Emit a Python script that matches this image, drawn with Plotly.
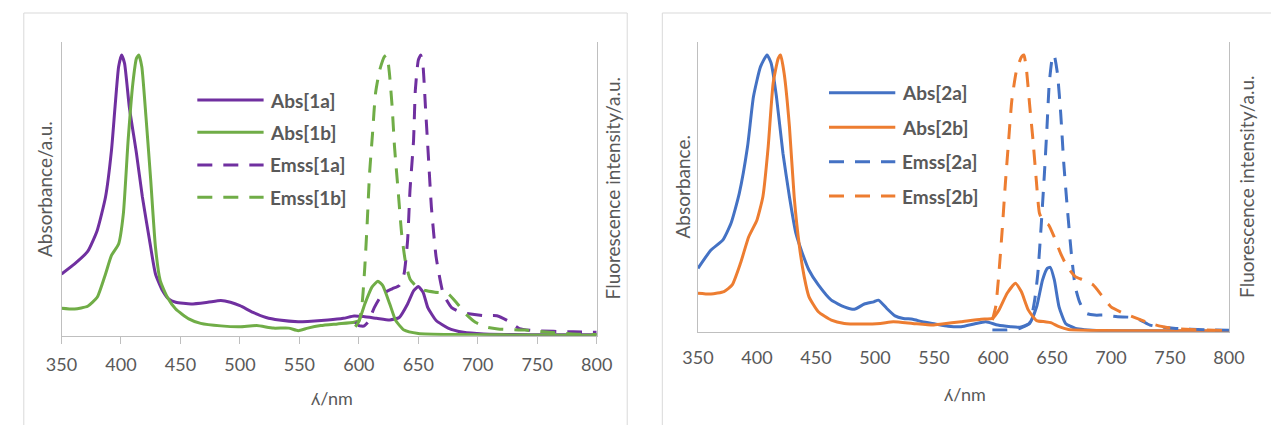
import plotly.graph_objects as go

W, H = 1271, 425

# ---------------- data (left panel) ----------------
abs_1a_x = [350, 361, 372, 380, 387, 392, 395, 398, 400.5, 403, 407, 413, 418, 424, 429, 435, 440, 446, 459, 473,
            484, 492, 500, 511, 522, 533, 549, 557, 574, 587, 596, 604, 615, 626, 634, 641, 646, 650, 654, 658,
            665, 675, 688, 705, 730, 760, 800]
abs_1a_y = [0.22, 0.256, 0.30, 0.375, 0.494, 0.66, 0.815, 0.958, 1.0, 0.97, 0.815, 0.65, 0.494, 0.34, 0.22, 0.16,
            0.131, 0.119, 0.113, 0.119, 0.125, 0.119, 0.107, 0.083, 0.065, 0.056, 0.05, 0.051, 0.056, 0.062, 0.07,
            0.068, 0.062, 0.056, 0.065, 0.113, 0.16, 0.175, 0.155, 0.10, 0.054, 0.027, 0.012, 0.006, 0.004, 0.003,
            0.003]

abs_1b_x = [350, 361, 372, 380, 387, 392, 398, 402, 406, 410, 413, 415, 417.5, 421, 425, 429, 433, 439, 446, 457,
            467, 484, 500, 514, 528, 541, 549, 557, 568, 582, 596, 600, 605, 611, 616, 620, 626, 631, 638, 650,
            678, 720, 800]
abs_1b_y = [0.098, 0.095, 0.105, 0.137, 0.22, 0.286, 0.327, 0.435, 0.696, 0.9, 0.988, 1.0, 0.958, 0.78, 0.554,
            0.315, 0.196, 0.137, 0.095, 0.06, 0.044, 0.035, 0.032, 0.036, 0.027, 0.027, 0.018, 0.027, 0.036, 0.042,
            0.048, 0.054, 0.113, 0.173, 0.194, 0.179, 0.113, 0.054, 0.02, 0.008, 0.004, 0.003, 0.002]

emss_1a_x = [597, 600, 604, 608, 613, 620, 628, 634, 638, 641, 643, 646, 647.5, 650, 652, 654, 656, 658.5, 661,
             665, 671, 678, 686, 694, 705, 716, 725, 735, 747, 780, 800]
emss_1a_y = [0.048, 0.036, 0.034, 0.05, 0.10, 0.149, 0.167, 0.179, 0.22, 0.34, 0.518, 0.696, 0.875, 0.982, 1.0,
             0.958, 0.815, 0.637, 0.458, 0.28, 0.149, 0.10, 0.083, 0.077, 0.071, 0.071, 0.054, 0.025, 0.018,
             0.014, 0.012]

emss_1b_x = [597, 600.5, 603, 605, 607, 609, 611.5, 614, 617.5, 621.5, 623.5, 625.7, 628, 630, 633, 636, 639, 643,
             649, 656, 664, 675, 683, 690, 698, 708, 717, 740, 760, 780, 800]
emss_1b_y = [0.032, 0.054, 0.125, 0.244, 0.4, 0.577, 0.72, 0.863, 0.946, 0.994, 1.0, 0.935, 0.815, 0.673, 0.518,
             0.363, 0.268, 0.202, 0.173, 0.161, 0.155, 0.149, 0.113, 0.077, 0.048, 0.03, 0.024, 0.02, 0.012,
             0.006, 0.004]

# ---------------- data (right panel) ----------------
abs_2a_x = [350, 361, 371, 378, 385, 392, 397, 403, 408.5, 412, 416.5, 422, 427.5, 433, 438.5, 444, 452, 463, 474,
            482.5, 491, 499, 503, 510, 517, 524, 532, 540, 551, 562, 573, 584, 594, 604, 615, 623, 631, 637, 642,
            646, 648.5, 652, 656, 661.5, 670, 692, 740, 800]
abs_2a_y = [0.229, 0.295, 0.331, 0.392, 0.5, 0.669, 0.849, 0.958, 1.0, 0.97, 0.849, 0.645, 0.488, 0.355, 0.283,
            0.223, 0.169, 0.114, 0.09, 0.081, 0.1, 0.108, 0.114, 0.084, 0.057, 0.048, 0.045, 0.036, 0.028, 0.02,
            0.018, 0.028, 0.036, 0.024, 0.018, 0.016, 0.03, 0.09, 0.187, 0.229, 0.233, 0.187, 0.09, 0.03, 0.012,
            0.004, 0.003, 0.002]

abs_2b_x = [350, 361, 372, 379, 386, 393, 400, 405, 409.5, 413.7, 418, 420, 423, 427.5, 431.5, 436, 440, 444, 452,
            463, 474, 488, 504.5, 515.5, 532, 549, 557, 573, 590, 599.5, 605, 612, 619, 624, 630, 637, 644, 649,
            656, 664, 692, 740, 800]
abs_2b_y = [0.139, 0.136, 0.145, 0.169, 0.247, 0.343, 0.404, 0.488, 0.669, 0.898, 0.988, 1.0, 0.934, 0.741, 0.488,
            0.307, 0.199, 0.127, 0.072, 0.042, 0.03, 0.028, 0.03, 0.036, 0.03, 0.024, 0.028, 0.036, 0.045, 0.048,
            0.078, 0.139, 0.175, 0.145, 0.078, 0.04, 0.036, 0.033, 0.018, 0.008, 0.004, 0.003, 0.003]

emss_2a_x = [599.5, 612, 623, 631, 635.3, 638, 640.8, 643.6, 645.8, 647.7, 650.5, 651.8, 654.6, 657.4, 660, 662.9,
             666.4, 669.7, 673.9, 679.4, 686.3, 694.5, 705.5, 716.6, 724.8, 733, 744, 755, 780, 800]
emss_2a_y = [0.006, 0.006, 0.012, 0.03, 0.114, 0.21, 0.38, 0.572, 0.741, 0.898, 0.994, 1.0, 0.934, 0.789, 0.608,
             0.452, 0.283, 0.163, 0.102, 0.066, 0.06, 0.06, 0.054, 0.052, 0.042, 0.024, 0.016, 0.012, 0.007, 0.005]

emss_2b_x = [599.5, 602.3, 605, 607.8, 610.5, 613.3, 616, 620, 624.3, 626.2, 628.4, 631.2, 633.9, 636.7, 639.4,
             642.7, 647.2, 651.8, 657.3, 662.9, 669.7, 676.6, 684.9, 691.8, 700, 711, 722, 733, 744, 755, 780, 800]
emss_2b_y = [0.042, 0.09, 0.21, 0.367, 0.536, 0.693, 0.837, 0.946, 0.994, 1.0, 0.946, 0.813, 0.693, 0.548, 0.428,
             0.398, 0.386, 0.343, 0.283, 0.235, 0.199, 0.187, 0.169, 0.133, 0.09, 0.066, 0.048, 0.03, 0.018, 0.011,
             0.006, 0.004]

x_ticks = [350, 400, 450, 500, 550, 600, 650, 700, 750, 800]
legend_left = ["Abs[1a]", "Abs[1b]", "Emss[1a]", "Emss[1b]"]
legend_right = ["Abs[2a]", "Abs[2b]", "Emss[2a]", "Emss[2b]"]

PURPLE, GREEN = "#7030A0", "#70AD47"
BLUE, ORANGE = "#4472C4", "#ED7D31"
TXT = "#595959"
AXC = "#BFBFBF"
FONT = "Lato, 'Open Sans', sans-serif"
DASH = "15px,11px"


def px(x):
    return x / W


def py(y):
    return 1 - y / H


fig = go.Figure()


def add(xs, ys, color, dash, xa, ya):
    fig.add_trace(go.Scatter(x=xs, y=ys, mode="lines", xaxis=xa, yaxis=ya, showlegend=False,
                             line=dict(color=color, width=3, dash=dash, shape="spline", smoothing=0.5),
                             hoverinfo="skip"))


add(abs_1a_x, abs_1a_y, PURPLE, "solid", "x", "y")
add(abs_1b_x, abs_1b_y, GREEN, "solid", "x", "y")
add(emss_1a_x, emss_1a_y, PURPLE, DASH, "x", "y2")
add(emss_1b_x, emss_1b_y, GREEN, DASH, "x", "y2")
add(abs_2a_x, abs_2a_y, BLUE, "solid", "x2", "y3")
add(abs_2b_x, abs_2b_y, ORANGE, "solid", "x2", "y3")
add(emss_2a_x, emss_2a_y, BLUE, DASH, "x2", "y4")
add(emss_2b_x, emss_2b_y, ORANGE, DASH, "x2", "y4")

xcommon = dict(range=[350, 800], tickvals=x_ticks, showgrid=False, zeroline=False, showline=True,
               linecolor=AXC, linewidth=1, tickfont=dict(family=FONT, size=18, color=TXT))
ycommon = dict(showgrid=False, zeroline=False, showline=True, linecolor=AXC, linewidth=1,
               showticklabels=False, ticks="")

L_top, L_bot = 42, 335.7
R_top, R_bot = 41.7, 331.7
L_range = [0, (L_bot - L_top) / (L_bot - 55)]
R_range = [0, (R_bot - R_top) / (R_bot - 55)]

fig.update_layout(
    width=W, height=H, margin=dict(l=0, r=0, t=0, b=0),
    paper_bgcolor="white", plot_bgcolor="white", showlegend=False,
    xaxis=dict(domain=[px(46.7), px(595.7)], anchor="y", ticks="outside", ticklen=7, tickcolor=AXC,
               ticklabelstandoff=6, **xcommon),
    yaxis=dict(domain=[py(L_bot), py(L_top)], range=L_range, anchor="x", **ycommon),
    yaxis2=dict(overlaying="y", side="right", range=L_range, anchor="x", **ycommon),
    xaxis2=dict(domain=[px(699.6), px(1244.3)], anchor="y3", ticks="", ticklabelstandoff=10, **xcommon),
    yaxis3=dict(domain=[py(R_bot), py(R_top)], range=R_range, anchor="x2", **ycommon),
    yaxis4=dict(overlaying="y3", side="right", range=R_range, anchor="x2", **ycommon),
)

shapes = []
annotations = []
# panel frames
shapes.append(dict(type="rect", xref="paper", yref="paper", x0=px(8), x1=px(627), y0=py(445), y1=py(13),
                   line=dict(color="#D9D9D9", width=1), fillcolor="rgba(0,0,0,0)", layer="below"))
shapes.append(dict(type="rect", xref="paper", yref="paper", x0=px(663), x1=px(1290), y0=py(445), y1=py(13),
                   line=dict(color="#D9D9D9", width=1), fillcolor="rgba(0,0,0,0)", layer="below"))


def title(text, x, y, angle=0, size=19):
    annotations.append(dict(text=text, x=px(x), y=py(y), xref="paper", yref="paper", showarrow=False,
                            xanchor="center", yanchor="middle", textangle=angle,
                            font=dict(family=FONT, size=size, color=TXT)))


title("ʎ/nm", 324, 398, size=18)
title("Absorbance/a.u.", 30, 188.8, -90)
title("Fluorescence intensity/a.u.", 612, 188.8, -90)
title("ʎ/nm", 974, 394, size=18)
title("Absorbance.", 684, 186.7, -90)
title("Fluorescence intensity/a.u.", 1262, 186.7, -90)


def legend(names, colors, x0, x1, xt, ys):
    dashes = ["solid", "solid", DASH, DASH]
    for name, c, d, y in zip(names, colors, dashes, ys):
        shapes.append(dict(type="line", xref="paper", yref="paper", x0=px(x0), x1=px(x1), y0=py(y), y1=py(y),
                           line=dict(color=c, width=3, dash=d)))
        annotations.append(dict(text="<b>%s</b>" % name, x=px(xt), y=py(y), xref="paper", yref="paper",
                                showarrow=False, xanchor="left", yanchor="middle",
                                font=dict(family=FONT, size=19, color=TXT)))


legend(legend_left, [PURPLE, GREEN, PURPLE, GREEN], 186, 254, 259, [100, 132.3, 165, 197.3])
legend(legend_right, [BLUE, ORANGE, BLUE, ORANGE], 834, 902, 907, [92.7, 127.3, 161.7, 196])

fig.update_layout(shapes=shapes, annotations=annotations)
fig.write_html("out.html", config={"displayModeBar": False},
               post_script="document.body.style.margin='0';document.body.style.overflow='hidden';")
